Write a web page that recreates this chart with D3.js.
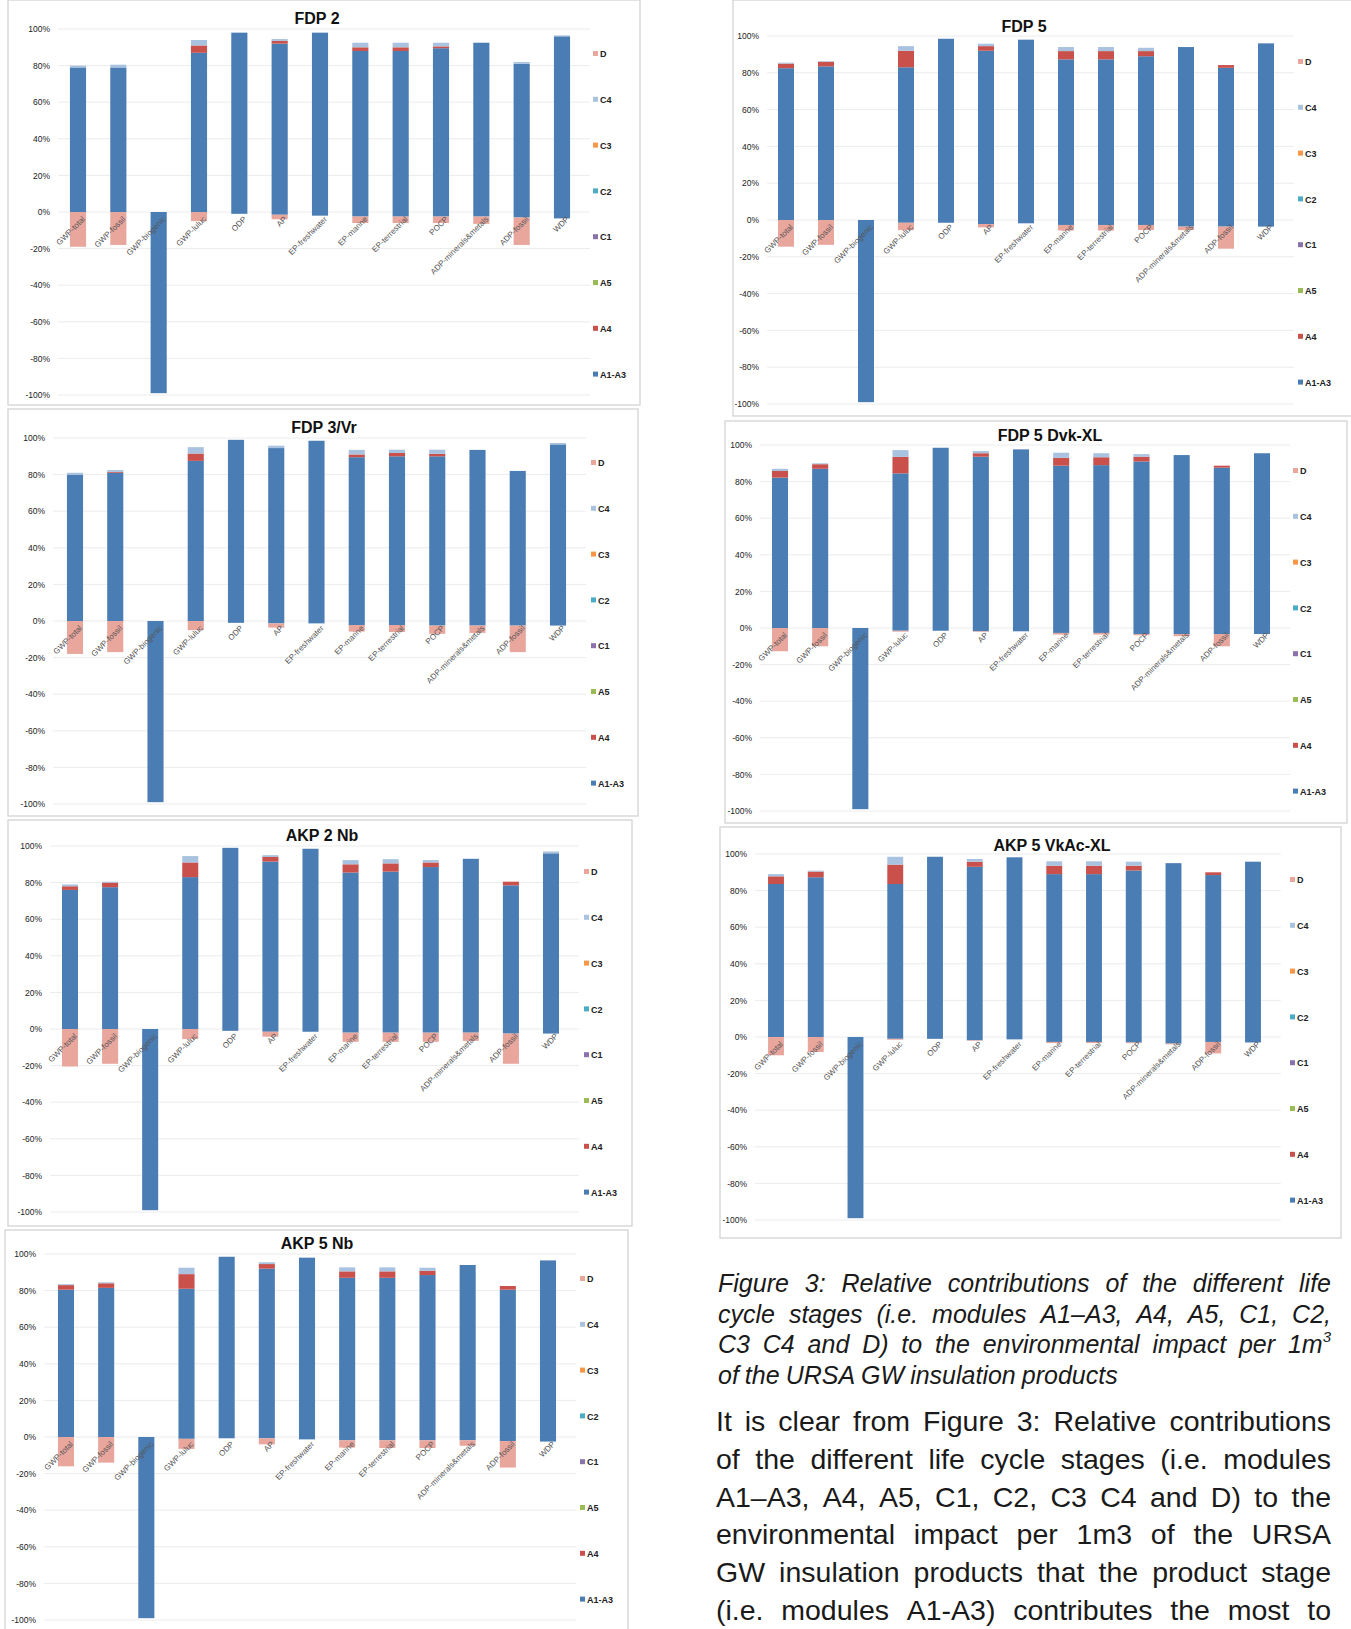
<!DOCTYPE html>
<html>
<head>
<meta charset="utf-8">
<script src="https://cdn.jsdelivr.net/npm/d3@7"></script>
<style>
  body { margin: 0; background: #fff; }
  svg { display: block; }
  text { font-family: "Liberation Sans", Arial, sans-serif; }
</style>
</head>
<body>
<svg id="page" width="1351" height="1629"></svg>
<script>
// impact categories, same for every panel
const categories = ["GWP-total", "GWP-fossil", "GWP-biogenic", "GWP-luluc", "ODP", "AP",
  "EP-freshwater", "EP-marine", "EP-terrestrial", "POCP", "ADP-minerals&metals", "ADP-fossil", "WDP"];
const legendKeys = ["D", "C4", "C3", "C2", "C1", "A5", "A4", "A1-A3"];
const yTicks = [100, 80, 60, 40, 20, 0, -20, -40, -60, -80, -100];

// stages that are ~0 everywhere (A5, C1, C2, C3)
const ZEROS = [0, 0, 0, 0, 0, 0, 0, 0, 0, 0, 0, 0, 0];

// FDP 2
const fdp2A1A3 = [79, 79, 0, 87, 98, 92, 98, 88, 88, 89.5, 92.5, 81, 96];
const fdp2A1A3Neg = [0, 0, -99, 0, -1, -1.5, -2, -2.5, -2.5, -2.5, -2.5, -3, -3.5];
const fdp2A4 = [0, 0, 0, 4, 0, 1.5, 0, 2, 2, 1, 0, 0, 0];
const fdp2C4 = [1, 1.5, 0, 3, 0, 1, 0, 2.5, 2.5, 2, 0, 1, 0.5];
const fdp2D = [-19, -18, 0, -5, 0, -2.5, 0, -3.5, -3.5, -3.5, -4, -15, 0];

// FDP 3/Vr
const fdp3A1A3 = [80, 81, 0, 87.5, 99, 94.5, 98.5, 89.5, 90, 90, 93.5, 82, 96.5];
const fdp3A1A3Neg = [0, 0, -99, 0, -1, -1.3, -1.3, -2.2, -2.2, -2.5, -2.5, -2.5, -2.5];
const fdp3A4 = [0, 0.5, 0, 4, 0, 0, 0, 1.5, 1.8, 1.3, 0, 0, 0];
const fdp3C4 = [1, 1, 0, 3.5, 0, 1.3, 0, 2.5, 1.8, 2.3, 0, 0, 0.8];
const fdp3D = [-18, -17, 0, -5, 0, -2.3, 0, -3.6, -3.8, -4.5, -4, -14.5, 0];

// AKP 2 Nb
const akp2A1A3 = [76, 77.5, 0, 83, 99, 91.5, 98.5, 85.5, 86, 88.5, 93, 78.5, 96];
const akp2A1A3Neg = [0, 0, -99, 0, -1, -1.5, -1.5, -2, -2, -2, -2, -2.5, -2.5];
const akp2A4 = [2, 2.5, 0, 8, 0, 2.5, 0, 4.5, 4.5, 2.5, 0, 2, 0];
const akp2C4 = [1, 0.5, 0, 3.5, 0, 1, 0, 2.3, 2.3, 1.3, 0, 0, 1];
const akp2D = [-20.5, -19, 0, -5.5, 0, -2.7, 0, -5, -5, -5, -4.5, -16.5, 0];

// AKP 5 Nb
const akp5A1A3 = [80.5, 81.5, 0, 81, 98.5, 92, 98, 87, 87, 88.5, 94, 80.5, 96.5];
const akp5A1A3Neg = [0, 0, -99, -1, -0.7, -0.7, -1.3, -1.8, -1.8, -1.8, -1.8, -2.2, -2.5];
const akp5A4 = [2.5, 2.5, 0, 8, 0, 2.5, 0, 3.5, 3.5, 2.3, 0, 2, 0];
const akp5C4 = [0.5, 0.5, 0, 3.5, 0, 1, 0, 2.2, 2.2, 1.7, 0, 0, 0];
const akp5D = [-16, -14, 0, -5.5, 0, -3.3, 0, -4, -4.2, -4.2, -3, -14.5, 0];

// FDP 5
const fdp5A1A3 = [82.5, 83.5, 0, 83, 98.5, 92, 98, 87.3, 87.3, 89, 94, 82.7, 96];
const fdp5A1A3Neg = [0, 0, -99, -1.5, -1.5, -2.2, -1.8, -2.7, -2.7, -2.7, -3.6, -3.6, -3.6];
const fdp5A4 = [2.5, 2.5, 0, 9, 0, 2.5, 0, 4.5, 4.5, 2.8, 0, 1.5, 0];
const fdp5C4 = [0.5, 0.3, 0, 2.5, 0, 1.3, 0, 2.2, 2.2, 1.8, 0, 0, 0];
const fdp5D = [-14.5, -13.5, 0, -4, 0, -1.8, 0, -3, -3, -2.8, -1.9, -12, 0];

// FDP 5 Dvk-XL
const dvkA1A3 = [82.2, 87, 0, 84.5, 98.5, 93.6, 97.6, 88.7, 89, 91, 94.5, 87.6, 95.5];
const dvkA1A3Neg = [0, 0, -99, -1.5, -1.5, -1.8, -1.8, -2.7, -2.7, -3.3, -3.3, -3.3, -3.3];
const dvkA4 = [3.6, 2.5, 0, 9, 0, 1.9, 0, 4.3, 4.3, 2.6, 0, 1.1, 0];
const dvkC4 = [1.2, 0.5, 0, 3.7, 0, 1.2, 0, 2.8, 2.2, 1.4, 0, 0, 0];
const dvkD = [-12.7, -10, 0, -0.5, 0, -0.3, 0, -0.9, -0.9, -0.7, -1.2, -6.7, 0];

// AKP 5 VkAc-XL
const vkacA1A3 = [83.6, 87.3, 0, 83.6, 98.5, 93, 98.2, 89, 89, 91, 95, 88.5, 95.8];
const vkacA1A3Neg = [0, 0, -99, -1, -1, -1.8, -1.3, -2.7, -2.7, -3, -3.6, -2.7, -3];
const vkacA4 = [4.2, 3.1, 0, 10.6, 0, 2.8, 0, 4.6, 4.6, 2.6, 0, 1.5, 0];
const vkacC4 = [1.2, 0.5, 0, 4.3, 0, 1.5, 0, 2.4, 2.4, 2.2, 0, 0, 0];
const vkacD = [-10, -8.2, 0, -0.5, 0, -0.3, 0, -0.6, -0.6, -0.4, -0.4, -6.3, 0];

const captionLines = [
  "Figure 3: Relative contributions of the different life",
  "cycle stages (i.e. modules A1–A3, A4, A5, C1, C2,",
  "C3 C4 and D) to the environmental impact per 1m^3",
  "of the URSA GW insulation products"
];
const bodyLines = [
  "It is clear from Figure 3: Relative contributions",
  "of the different life cycle stages (i.e. modules",
  "A1–A3, A4, A5, C1, C2, C3 C4 and D) to the",
  "environmental impact per 1m3 of the URSA",
  "GW insulation products that the product stage",
  "(i.e. modules A1-A3) contributes the most to"
];

const stageColor = {
  "A1-A3": "#4a7db3", "A1-A3neg": "#4a7db3", "A4": "#c9504b", "A5": "#9bbb59",
  "C1": "#8a72ad", "C2": "#4bacc6", "C3": "#f79646", "C4": "#a9c2df", "D": "#e8a69d"
};
const stackKeys = ["A1-A3neg", "A1-A3", "A4", "A5", "C1", "C2", "C3", "C4", "D"];

// panel placement on the page
const panels = [
  { title: "FDP 2", series: [fdp2A1A3Neg, fdp2A1A3, fdp2A4, fdp2C4, fdp2D],
    frame: [8, 0, 640, 405], titleX: 317, titleY: 24, yTop: 29, yBot: 395, first: 78, last: 562, legendX: 593, legendY: 54, labelRight: 50 },
  { title: "FDP 3/Vr", series: [fdp3A1A3Neg, fdp3A1A3, fdp3A4, fdp3C4, fdp3D],
    frame: [8, 409, 638, 816], titleX: 324, titleY: 433, yTop: 438, yBot: 804, first: 75, last: 558, legendX: 591, legendY: 463, labelRight: 45 },
  { title: "AKP 2 Nb", series: [akp2A1A3Neg, akp2A1A3, akp2A4, akp2C4, akp2D],
    frame: [8, 820, 632, 1226], titleX: 322, titleY: 841, yTop: 846, yBot: 1212, first: 70, last: 551, legendX: 584, legendY: 872, labelRight: 42 },
  { title: "AKP 5 Nb", series: [akp5A1A3Neg, akp5A1A3, akp5A4, akp5C4, akp5D],
    frame: [5, 1230, 628, 1640], titleX: 317, titleY: 1249, yTop: 1254, yBot: 1620, first: 66, last: 548, legendX: 580, legendY: 1279, labelRight: 36 },
  { title: "FDP 5", series: [fdp5A1A3Neg, fdp5A1A3, fdp5A4, fdp5C4, fdp5D],
    frame: [733, 0, 1352, 416], titleX: 1024, titleY: 32, yTop: 36, yBot: 404, first: 786, last: 1266, legendX: 1298, legendY: 62, labelRight: 759 },
  { title: "FDP 5 Dvk-XL", series: [dvkA1A3Neg, dvkA1A3, dvkA4, dvkC4, dvkD],
    frame: [725, 421, 1347, 823], titleX: 1050, titleY: 441, yTop: 445, yBot: 811, first: 780, last: 1262, legendX: 1293, legendY: 471, labelRight: 752 },
  { title: "AKP 5 VkAc-XL", series: [vkacA1A3Neg, vkacA1A3, vkacA4, vkacC4, vkacD],
    frame: [720, 827, 1341, 1238], titleX: 1052, titleY: 851, yTop: 854, yBot: 1220, first: 776, last: 1253, legendX: 1290, legendY: 880, labelRight: 747 }
];

const svg = d3.select("#page");
svg.append("rect").attr("width", 1351).attr("height", 1629).attr("fill", "#fff");

function drawPanel(p) {
    const g = svg.append("g");
    const [neg, pos, a4, c4, d] = p.series;

    g.append("rect")
        .attr("x", p.frame[0]).attr("y", p.frame[1])
        .attr("width", p.frame[2] - p.frame[0]).attr("height", p.frame[3] - p.frame[1])
        .attr("fill", "none").attr("stroke", "#cfcfcf").attr("stroke-width", 1.2);

    const step = (p.last - p.first) / (categories.length - 1);
    const x = d3.scaleBand()
        .domain(categories)
        .range([p.first - step / 2, p.last + step / 2])
        .paddingInner(0.6).paddingOuter(0.3);
    const y = d3.scaleLinear().domain([-100, 100]).range([p.yBot, p.yTop]);

    // gridlines
    g.append("g").selectAll("line")
        .data(yTicks)
        .enter().append("line")
        .attr("x1", p.labelRight + 8).attr("x2", p.last + step / 2 + 8)
        .attr("y1", v => y(v)).attr("y2", v => y(v))
        .attr("stroke", "#ececec").attr("stroke-width", 1);

    const rows = categories.map((c, i) => ({
        cat: c, "A1-A3neg": neg[i], "A1-A3": pos[i], A4: a4[i], A5: ZEROS[i],
        C1: ZEROS[i], C2: ZEROS[i], C3: ZEROS[i], C4: c4[i], D: d[i]
    }));
    const stacked = d3.stack().keys(stackKeys).offset(d3.stackOffsetDiverging)(rows);

    g.append("g").selectAll("g")
        .data(stacked)
        .enter().append("g")
        .attr("fill", s => stageColor[s.key])
        .selectAll("rect")
        .data(s => s)
        .enter().append("rect")
        .attr("x", v => x(v.data.cat))
        .attr("width", x.bandwidth())
        .attr("y", v => y(Math.max(v[0], v[1])))
        .attr("height", v => Math.abs(y(v[0]) - y(v[1])));

    // y axis labels
    const yAxis = g.append("g")
        .attr("transform", `translate(${p.labelRight + 3},0)`)
        .call(d3.axisLeft(y).tickValues(yTicks).tickFormat(v => v + "%").tickSize(0).tickPadding(3));
    yAxis.select(".domain").remove();
    yAxis.selectAll("text").style("font-size", "8.5px").attr("fill", "#222")
        .style("font-family", "'Liberation Sans', Arial, sans-serif");

    // category labels, rotated
    const xAxis = g.append("g")
        .attr("transform", `translate(0,${y(0)})`)
        .call(d3.axisBottom(x).tickSize(0));
    xAxis.select(".domain").remove();
    xAxis.selectAll("text")
        .attr("x", 0).attr("y", 8).attr("dy", "0.35em")
        .attr("transform", "rotate(-45)")
        .style("text-anchor", "end")
        .style("font-size", "8px")
        .style("font-family", "'Liberation Sans', Arial, sans-serif")
        .attr("fill", "#555");

    g.append("text")
        .attr("x", p.titleX).attr("y", p.titleY)
        .attr("text-anchor", "middle")
        .style("font-size", "16px").style("font-weight", "bold")
        .attr("fill", "#111")
        .text(p.title);

    const leg = g.append("g").selectAll("g")
        .data(legendKeys)
        .enter().append("g")
        .attr("transform", (k, i) => `translate(${p.legendX},${p.legendY + i * 45.8})`);
    leg.append("rect").attr("x", 0).attr("y", -3).attr("width", 5).attr("height", 5)
        .attr("fill", k => stageColor[k]);
    leg.append("text").attr("x", 7).attr("y", 0).attr("dy", "0.35em")
        .style("font-size", "9px").style("font-weight", "bold").attr("fill", "#222")
        .text(k => k);
}

panels.forEach(drawPanel);

// justified paragraph lines, word by word (squeezed if the words don't fit)
function textLine(line, x0, x1, y, size, italic, justify) {
    const words = line.split(" ");
    const nodes = words.map(w => {
        const t = svg.append("text")
            .style("font-size", size + "px")
            .style("font-style", italic ? "italic" : "normal")
            .attr("fill", "#1a1a1a");
        if (w.endsWith("^3")) {
            t.text(w.slice(0, -2));
            t.append("tspan").attr("dy", -size * 0.45).style("font-size", (size * 0.6) + "px").text("3");
        } else {
            t.text(w);
        }
        return t;
    });
    const widths = nodes.map(n => n.node().getComputedTextLength());
    const total = d3.sum(widths);
    const minGap = size * 0.24;
    let squeeze = 1;
    let gap = justify ? (x1 - x0 - total) / (words.length - 1) : minGap;
    if (gap < minGap) {
        squeeze = (x1 - x0 - minGap * (words.length - 1)) / total;
        gap = minGap;
    }
    let cx = x0;
    nodes.forEach((n, i) => {
        n.attr("transform", `translate(${cx},${y}) scale(${squeeze},1)`);
        cx += widths[i] * squeeze + gap;
    });
}

captionLines.forEach((l, i) =>
    textLine(l, 718, 1331, 1292 + i * 30.7, 25, true, i < captionLines.length - 1));
bodyLines.forEach((l, i) =>
    textLine(l, 716, 1331, 1431 + i * 37.8, 28.5, false, true));
</script>
</body>
</html>
